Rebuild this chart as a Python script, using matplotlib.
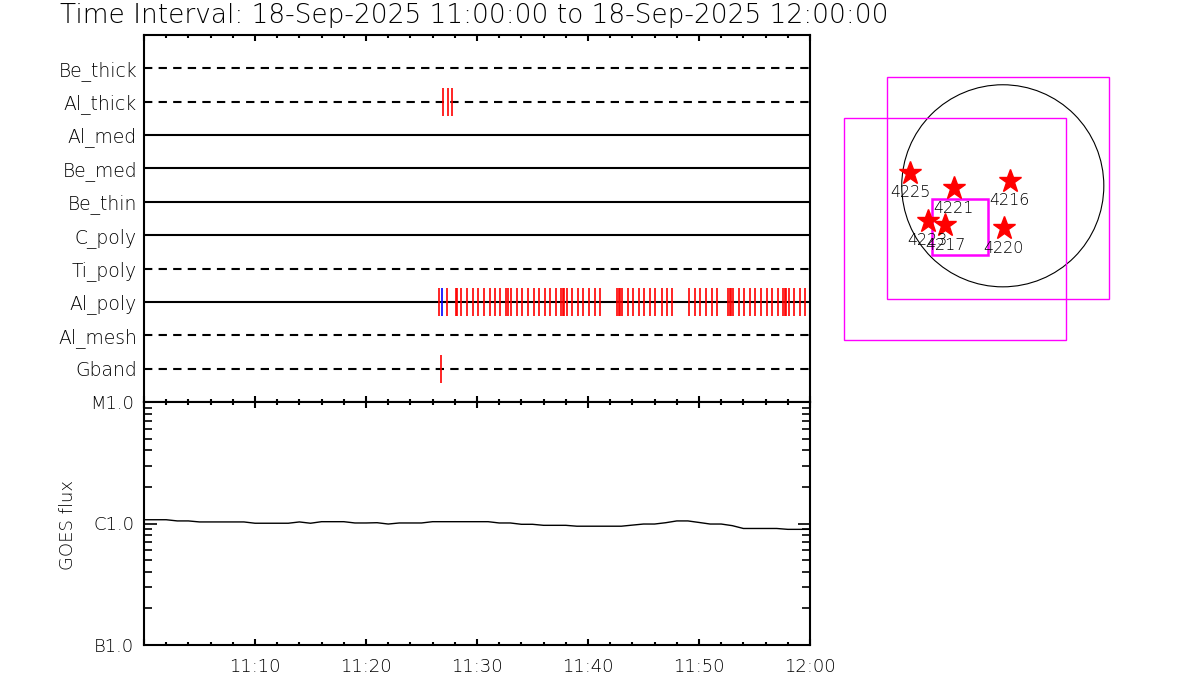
import matplotlib
matplotlib.use("Agg")
import matplotlib.pyplot as plt
from matplotlib.patches import Circle, Rectangle
from matplotlib.ticker import MultipleLocator, NullFormatter

plt.rcParams['font.family'] = ['DejaVu Sans']
plt.rcParams['font.weight'] = 'light'

# ---------------- data ----------------
title_text = "Time Interval: 18-Sep-2025 11:00:00 to 18-Sep-2025 12:00:00"

filters = ["Be_thick", "Al_thick", "Al_med", "Be_med", "Be_thin",
           "C_poly", "Ti_poly", "Al_poly", "Al_mesh", "Gband"]
filter_dashed = [True, True, False, False, False, False, True, False, True, True]

# event times in minutes after 11:00
al_thick_red = [26.96, 27.41, 27.77]
gband_red = [26.73]
al_poly_blue = [26.83]
al_poly_red = [26.56, 27.28, 28.09, 28.18, 28.58, 29.08, 29.62, 30.11, 30.61,
               31.13, 31.60, 32.09, 32.63, 32.75, 33.08, 33.59, 34.07, 34.58,
               35.12, 35.63, 36.11, 36.62, 37.14, 37.59, 37.77, 37.86, 38.09,
               38.58, 39.08, 39.59, 40.07, 40.59, 41.06, 42.59, 42.77, 42.90,
               43.05, 43.59, 44.04, 44.58, 45.09, 45.60, 46.08, 46.65, 47.10,
               47.59, 49.08, 49.62, 50.11, 50.61, 51.13, 51.60, 52.63, 52.75,
               52.84, 53.05, 53.59, 54.07, 54.61, 55.09, 55.60, 56.11, 56.59,
               57.10, 57.61, 57.73, 57.82, 58.09, 58.60, 59.08, 59.57]

# GOES flux (W/m^2), 1-minute samples from 11:00 to 12:00
goes_minutes = list(range(0, 61))
goes_flux = [1.074e-6, 1.074e-6, 1.074e-6, 1.05e-6, 1.05e-6, 1.03e-6, 1.03e-6,
             1.03e-6, 1.03e-6, 1.03e-6, 1.005e-6, 1.005e-6, 1.005e-6,
             1.005e-6, 1.03e-6, 1.005e-6, 1.035e-6, 1.035e-6, 1.035e-6, 1.01e-6,
             1.01e-6, 1.015e-6, 0.99e-6, 1.01e-6, 1.01e-6, 1.01e-6,
             1.035e-6, 1.035e-6, 1.035e-6, 1.035e-6, 1.035e-6, 1.035e-6, 1.01e-6,
             1.01e-6, 0.985e-6, 0.985e-6, 0.966e-6, 0.966e-6, 0.966e-6,
             0.95e-6, 0.95e-6, 0.95e-6, 0.95e-6, 0.95e-6, 0.97e-6,
             0.99e-6, 0.99e-6, 1.015e-6, 1.05e-6, 1.05e-6, 1.02e-6,
             0.99e-6, 0.99e-6, 0.96e-6, 0.91e-6, 0.91e-6, 0.91e-6,
             0.91e-6, 0.895e-6, 0.895e-6, 0.895e-6]

goes_ticks = [1e-7, 1e-6, 1e-5]
goes_tick_labels = ["B1.0", "C1.0", "M1.0"]
time_ticks = [0, 10, 20, 30, 40, 50, 60]
time_tick_labels = ["", "11:10", "11:20", "11:30", "11:40", "11:50", "12:00"]

# solar map (arcsec)
sun_radius = 955
fov_boxes = [(-42, -24, 2100), (-452, -410, 2100)]   # centre x, centre y, size
zoom_box = (-407, -391, 530)
ar_numbers = ["4225", "4221", "4216", "4223", "4217", "4220"]
ar_x = [-874, -464, 65, -710, -543, 11]
ar_y = [124, -24, 48, -330, -370, -402]

# ---------------- figure ----------------
W, H = 1200, 700
fig = plt.figure(figsize=(12, 7), dpi=100)

def fax(x0, y0, x1, y1):
    return fig.add_axes([x0 / W, 1 - y1 / H, (x1 - x0) / W, (y1 - y0) / H])

ax1 = fax(144, 35, 810, 402)
ax2 = fax(144, 402, 810, 645)
ax3 = fax(830, 60, 1120, 350)

fig.text(60 / W, 1 - 16 / H, title_text, fontsize=19, ha='left', va='center')

# ---- top panel: filter events ----
ax1.set_xlim(0, 60)
ax1.set_ylim(len(filters) + 1, 0)
rows = list(range(1, len(filters) + 1))
for y, dashed in zip(rows, filter_dashed):
    ax1.hlines(y, 0, 60, colors='black', lw=1.5,
               linestyles=(0, (4, 3)) if dashed else 'solid', zorder=1)

row_of = {n: i + 1 for i, n in enumerate(filters)}
h = 0.42
ax1.vlines(al_thick_red, row_of["Al_thick"] - h, row_of["Al_thick"] + h, colors='red', lw=1.2, zorder=3)
ax1.vlines(gband_red, row_of["Gband"] - h, row_of["Gband"] + h, colors='red', lw=1.2, zorder=3)
ax1.vlines(al_poly_red, row_of["Al_poly"] - h, row_of["Al_poly"] + h, colors='red', lw=1.2, zorder=3)
ax1.vlines(al_poly_blue, row_of["Al_poly"] - h, row_of["Al_poly"] + h, colors='blue', lw=1.2, zorder=3)

ax1.set_yticks(rows)
ax1.set_yticklabels(filters, fontsize=13.5)
ax1.tick_params(axis='y', length=0, pad=5)
ax1.xaxis.set_major_locator(MultipleLocator(10))
ax1.xaxis.set_minor_locator(MultipleLocator(2))
ax1.xaxis.set_major_formatter(NullFormatter())
ax1.tick_params(axis='x', which='both', direction='in', top=True, bottom=True,
                labelbottom=False, width=1.5)
ax1.tick_params(axis='x', which='major', length=4.5)
ax1.tick_params(axis='x', which='minor', length=2.2)
for s in ax1.spines.values():
    s.set_linewidth(1.5)

# ---- bottom panel: GOES ----
ax2.plot(goes_minutes, goes_flux, color='black', lw=1.0)
ax2.set_yscale('log')
ax2.set_ylim(1e-7, 1e-5)
ax2.set_xlim(0, 60)
ax2.set_yticks(goes_ticks)
ax2.set_yticklabels(goes_tick_labels, fontsize=13)
ax2.yaxis.set_minor_formatter(NullFormatter())
ax2.tick_params(axis='y', which='both', direction='in', left=True, right=True, width=1.2, pad=7)
ax2.tick_params(axis='y', which='major', length=9)
ax2.tick_params(axis='y', which='minor', length=5.5)
ax2.set_xticks(time_ticks)
ax2.set_xticklabels(time_tick_labels, fontsize=13)
ax2.xaxis.set_minor_locator(MultipleLocator(2))
ax2.tick_params(axis='x', which='both', direction='in', top=True, bottom=True, width=1.5, pad=9)
ax2.tick_params(axis='x', which='major', length=4.5)
ax2.tick_params(axis='x', which='minor', length=2.2)
for s in ax2.spines.values():
    s.set_linewidth(1.5)
fig.text(68 / W, 1 - 525 / H, "GOES flux", rotation=90, fontsize=13, ha='center', va='center')

# ---- right panel: solar map ----
ax3.set_xlim(-1633, 1108)
ax3.set_ylim(-1552, 1189)
ax3.axis('off')
ax3.add_patch(Circle((0, 0), sun_radius, fill=False, ec='black', lw=0.8))
for cx, cy, size in fov_boxes:
    ax3.add_patch(Rectangle((cx - size / 2, cy - size / 2), size, size,
                            fill=False, ec='#ff00ff', lw=1.0))
cx, cy, size = zoom_box
ax3.add_patch(Rectangle((cx - size / 2, cy - size / 2), size, size,
                        fill=False, ec='#ff00ff', lw=1.8))
ax3.plot(ar_x, ar_y, linestyle='none', marker='*', color='red', ms=17, mec='red')
for num, x, y in zip(ar_numbers, ar_x, ar_y):
    ax3.annotate(num, (x, y), xytext=(0, -14.5), textcoords='offset points',
                 ha='center', va='center', fontsize=11.5)

fig.savefig("out.png", dpi=100)
